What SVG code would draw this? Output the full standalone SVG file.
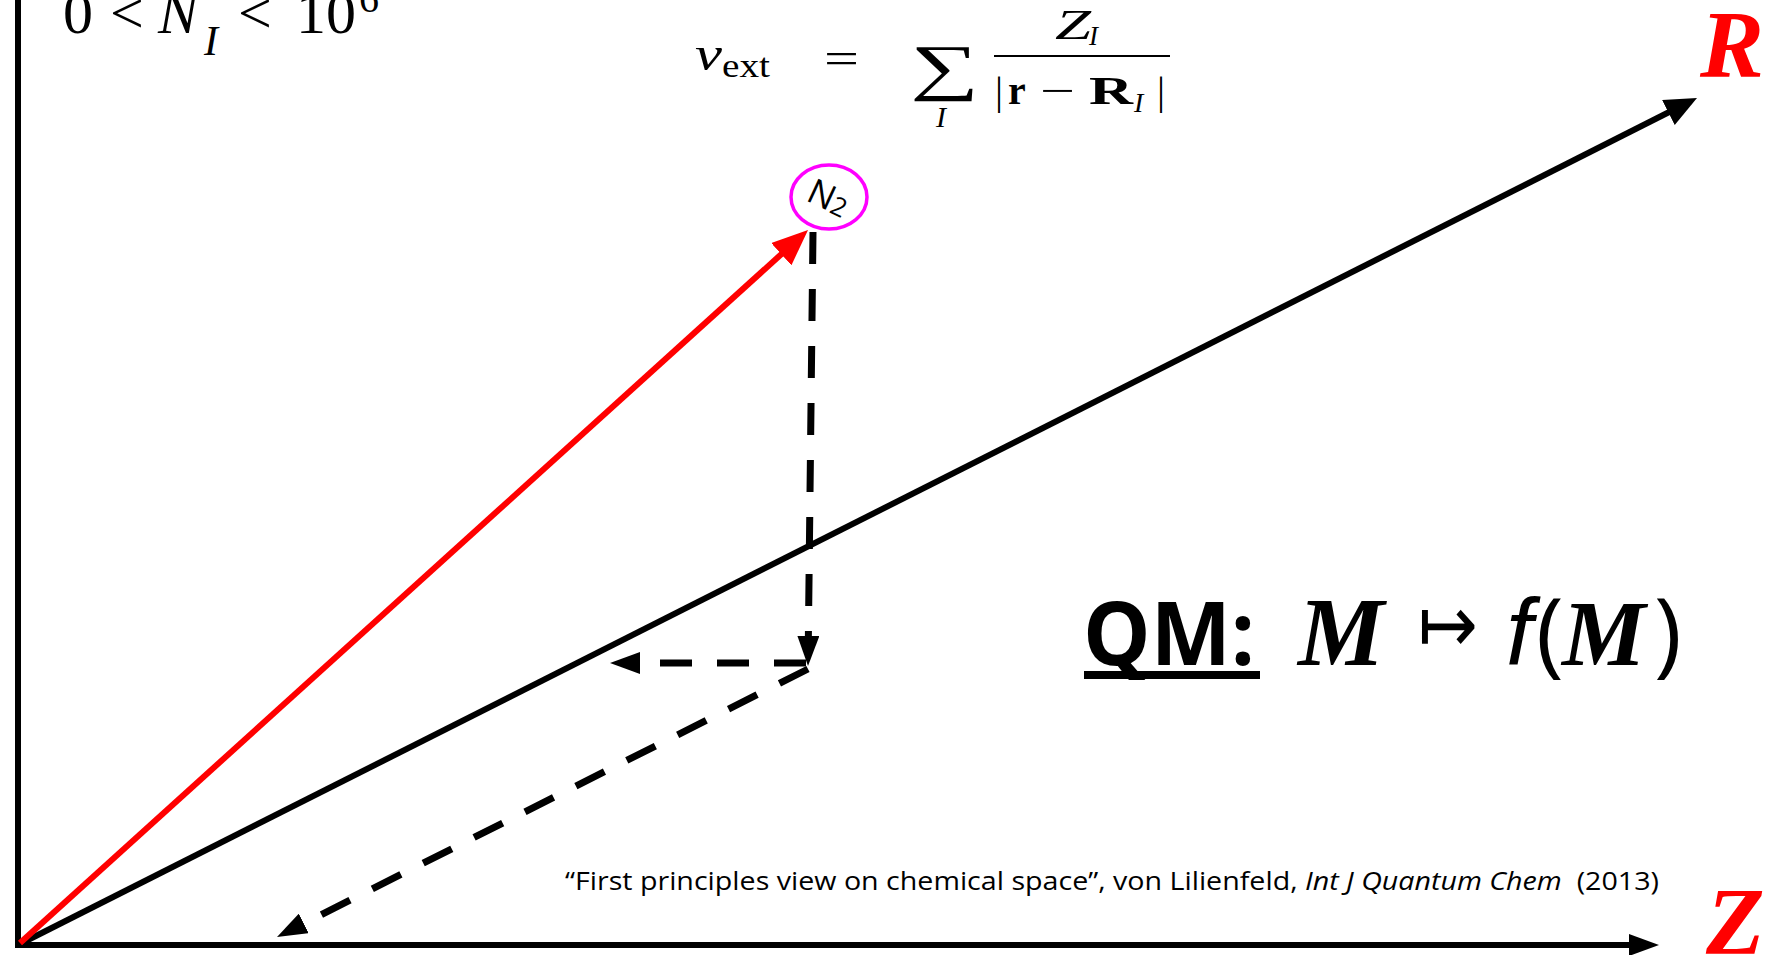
<svg xmlns="http://www.w3.org/2000/svg" width="1772" height="955" viewBox="0 0 1772 955">
<style>
.serif{font-family:"Liberation Serif","Times New Roman",serif;}
.sans{font-family:"Open Sans","Liberation Sans",sans-serif;}
.it{font-style:italic;}
.bd{font-weight:bold;}
.axis{stroke:#000;stroke-width:6;fill:none;}
.red{stroke:#ff0000;stroke-width:6;fill:none;}
.dash{stroke:#000;stroke-width:7;fill:none;stroke-dasharray:32 25;}
.lbl{fill:#ff0000;font-family:"Liberation Serif","Times New Roman",serif;font-style:italic;font-weight:bold;font-size:96px;}
</style>
<defs>
<marker id="ahR" markerUnits="userSpaceOnUse" viewBox="0 0 32 28" markerWidth="32" markerHeight="28" refX="17" refY="14" orient="auto"><path d="M0,0 L32,14 L0,28 Z" fill="#000"/></marker>
<marker id="ahZ" markerUnits="userSpaceOnUse" viewBox="0 0 30 22" markerWidth="30" markerHeight="22" refX="15" refY="11" orient="auto"><path d="M0,0 L30,11 L0,22 Z" fill="#000"/></marker>
<marker id="ahRed" markerUnits="userSpaceOnUse" viewBox="0 0 36 30" markerWidth="36" markerHeight="30" refX="21" refY="15" orient="auto"><path d="M0,0 L36,15 L0,30 Z" fill="#ff0000"/></marker>
<marker id="ahD" markerUnits="userSpaceOnUse" viewBox="0 0 30 22" markerWidth="30" markerHeight="22" refX="15" refY="11" orient="auto"><path d="M0,0 L30,11 L0,22 Z" fill="#000"/></marker>
</defs>
<rect width="1772" height="955" fill="#fff"/>

<g id="axes">
<line class="axis" x1="18" y1="0" x2="18" y2="948"/>
<line class="axis" x1="15" y1="945" x2="1644" y2="945" marker-end="url(#ahZ)"/>
<line class="axis" x1="18" y1="945" x2="1683.6" y2="104.8" marker-end="url(#ahR)"/>
</g>

<g id="connectors">
<line class="red" x1="20" y1="943" x2="796.9" y2="240.1" marker-end="url(#ahRed)"/>
<line class="dash" x1="813" y1="232" x2="808.2" y2="651" marker-end="url(#ahD)"/>
<line class="dash" x1="806" y1="663" x2="625" y2="663" marker-end="url(#ahD)"/>
<line class="dash" x1="808" y1="669" x2="290.4" y2="930.2" marker-end="url(#ahD)"/>
</g>

<g id="node-N2">
<ellipse cx="829" cy="197" rx="38" ry="32" fill="#fff" stroke="#ff00ff" stroke-width="3.5"/>
<text class="sans" x="829" y="210" font-size="35" text-anchor="middle" transform="rotate(25 829 197)">N<tspan font-size="26" dy="1">2</tspan></text>
</g>

<g id="label-R"><text class="lbl" x="1700" y="77">R</text></g>
<g id="label-Z"><text class="lbl" x="1706" y="954">Z</text></g>

<g id="formula-N" class="serif">
<text x="63" y="33" font-size="60">0</text>
<text x="110" y="33" font-size="60">&lt;</text>
<text x="158" y="33" font-size="60" class="it">N</text>
<text x="204" y="55" font-size="42" class="it">I</text>
<text x="238" y="33" font-size="60">&lt;</text>
<text x="296" y="33" font-size="60">10</text>
<text x="359" y="12" font-size="40">6</text>
</g>

<g id="formula-vext" class="serif">
<text x="695" y="70" font-size="48" class="it" textLength="27" lengthAdjust="spacingAndGlyphs">v</text>
<text x="722" y="77" font-size="34" textLength="48" lengthAdjust="spacingAndGlyphs">ext</text>
<text x="824" y="73" font-size="44" textLength="35" lengthAdjust="spacingAndGlyphs">=</text>
<text x="910" y="88" font-size="62" textLength="69" lengthAdjust="spacingAndGlyphs">∑</text>
<text x="936" y="127" font-size="30" class="it">I</text>
<text x="1055" y="39" font-size="42" class="it" textLength="36" lengthAdjust="spacingAndGlyphs">Z</text>
<text x="1089" y="45" font-size="27" class="it">I</text>
<line x1="994" y1="56" x2="1170" y2="56" stroke="#000" stroke-width="2"/>
<text x="995" y="104" font-size="40">|</text>
<text x="1008" y="104" font-size="40" class="bd">r</text>
<text x="1040" y="104" font-size="40" textLength="35" lengthAdjust="spacingAndGlyphs">−</text>
<text x="1089" y="104" font-size="40" class="bd" textLength="44" lengthAdjust="spacingAndGlyphs">R</text>
<text x="1134" y="112" font-size="28" class="it">I</text>
<text x="1157" y="104" font-size="40">|</text>
</g>

<g id="qm-label">
<text class="sans bd" x="1083" y="665" font-size="88" textLength="172" lengthAdjust="spacingAndGlyphs">QM:</text>
<rect x="1084" y="671" width="176" height="8" fill="#000"/>
<text class="serif it bd" x="1298" y="665" font-size="97">M</text>
<text x="1418" y="652" font-size="80" font-family="DejaVu Sans, sans-serif" textLength="60" lengthAdjust="spacingAndGlyphs">↦</text>
<text x="1506" y="665" font-size="95" font-family="Liberation Sans, Arial, sans-serif" font-style="italic">f</text>
<text class="sans" x="1536" y="665" font-size="94">(</text>
<text class="serif it bd" x="1562" y="665" font-size="94">M</text>
<text class="sans" x="1654" y="665" font-size="94">)</text>
</g>

<g id="citation">
<text class="sans" x="565" y="890" font-size="25" textLength="1094" lengthAdjust="spacingAndGlyphs" xml:space="preserve">“First principles view on chemical space”, von Lilienfeld, <tspan class="it">Int J Quantum Chem</tspan>  (2013)</text>
</g>
</svg>
